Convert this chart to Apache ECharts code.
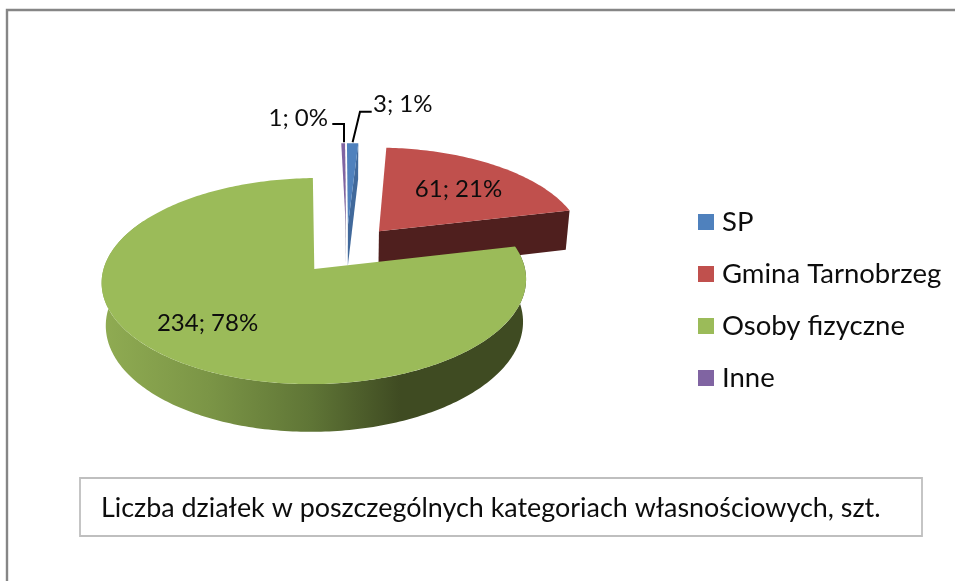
<!DOCTYPE html>
<html>
<head>
<meta charset="utf-8">
<style>html,body{margin:0;padding:0;background:#fff}#c{width:955px;height:581px}</style>
<script src="https://cdn.jsdelivr.net/npm/echarts@6/dist/echarts.min.js"></script>
</head>
<body>
<div id="c"></div>
<script>
const categories = ['SP', 'Gmina Tarnobrzeg', 'Osoby fizyczne', 'Inne'];
const values = [3, 61, 234, 1];
const percents = [1, 21, 78, 0];
const colors = ['#4F81BD', '#C0504D', '#9BBB59', '#8064A2'];
const faceColors = ['#41699B', '#4F1F1E', '#56682F', '#4B3A60'];
const titleText = 'Liczba działek w poszczególnych kategoriach własnościowych, szt.';

const FONT = 'Lato';
const view = {x0: 346.5, y0: 249.4, a: 206, b: 97.1, k: 0.114, depth: 41.2, shrink: 0.983, explode: 0.25, rotate: -0.25};
const total = values.reduce((s, v) => s + v, 0);

function rad(d) { return d * Math.PI / 180; }
function sliceAngles(i) {
  let s = view.rotate;
  for (let j = 0; j < i; j++) s += values[j] / total * 360;
  return [s, s + values[i] / total * 360];
}
function project(x, z, low) {
  const w = 1 + view.k * z;
  let X = view.a * x / w;
  let Y = -view.b * z / w;
  if (low) { X *= view.shrink; Y += view.depth / w; }
  return [view.x0 + X, view.y0 + Y];
}
function at(bis, deg, r, low) {
  const ex = Math.sin(rad(bis)) * view.explode, ez = Math.cos(rad(bis)) * view.explode;
  return project(ex + r * Math.sin(rad(deg)), ez + r * Math.cos(rad(deg)), low);
}
function arc(bis, a0, a1, low) {
  const n = Math.max(4, Math.ceil(Math.abs(a1 - a0)));
  const p = [];
  for (let t = 0; t <= n; t++) p.push(at(bis, a0 + (a1 - a0) * t / n, 1, low));
  return p;
}

const sideGradient = {
  type: 'linear', x: 105, y: 0, x2: 400, y2: 0, global: true,
  colorStops: [
    {offset: 0, color: '#8FAB52'},
    {offset: 0.35, color: '#7B9546'},
    {offset: 0.7, color: '#5F7536'},
    {offset: 1, color: '#3F4B22'}
  ]
};

const labelSpec = [
  {outside: true, text: [373, 104], kink: [[360, 111.7], [371.7, 111.7]], align: 'left'},
  {r: 0.64, deg: 41.5},
  {r: 0.686, deg: 223},
  {outside: true, text: [328, 118], kink: [[344, 124], [332.3, 124]], align: 'right'}
];

function renderSlice(i, api) {
  const [a0, a1] = sliceAngles(i);
  const bis = (a0 + a1) / 2;
  const apex = at(bis, 0, 0, false), apexLow = at(bis, 0, 0, true);
  const kids = [];
  const top = arc(bis, a0, a1, false);
  const low = arc(bis, a0, a1, true);
  if (i === 2) {
    // near wall of the big slice: the part that faces the viewer
    const wallEnd = Math.min(a1, 300);
    const wt = arc(bis, a0, wallEnd, false), wl = arc(bis, a0, wallEnd, true);
    kids.push({type: 'polygon', shape: {points: wt.concat(wl.reverse())},
      style: {fill: sideGradient}, silent: true});
  } else {
    // cut face on the clockwise end of the slice
    kids.push({type: 'polygon', shape: {points: [apex, top[top.length - 1], low[low.length - 1], apexLow]},
      style: {fill: faceColors[i]}, silent: true});
  }
  kids.push({type: 'polygon', shape: {points: [apex].concat(top)},
    style: {fill: colors[i]}, silent: true});
  const spec = labelSpec[i];
  const txt = values[i] + '; ' + percents[i] + '%';
  const textStyle = {font: '24px ' + FONT, fill: '#0d0d0d'};
  if (spec.outside) {
    const start = at(bis, bis, 1, false);
    kids.push({type: 'polyline', shape: {points: [[spec.kink[0][0] === 344 ? 344 : start[0], start[1] - 1]].concat(spec.kink)},
      style: {stroke: '#000', lineWidth: 2, fill: null}, silent: true});
    kids.push({type: 'text', x: spec.text[0], y: spec.text[1],
      style: Object.assign({text: txt, align: spec.align, verticalAlign: 'middle'}, textStyle), z2: 50});
  } else {
    const c = at(bis, spec.deg, spec.r, false);
    kids.push({type: 'text', x: c[0], y: c[1],
      style: Object.assign({text: txt, align: 'center', verticalAlign: 'middle'}, textStyle), z2: 50});
  }
  return {type: 'group', children: kids};
}

const paintOrder = [0, 3, 1, 2];
const series = categories.map((name, i) => ({
  type: 'custom',
  name: name,
  coordinateSystem: 'none',
  silent: true,
  animation: false,
  z: 2 + paintOrder.indexOf(i),
  itemStyle: {color: colors[i]},
  data: [values[i]],
  renderItem: (params, api) => renderSlice(i, api)
}));

const chart = echarts.init(document.getElementById('c'), null, {renderer: 'canvas'});
chart.setOption({
  animation: false,
  backgroundColor: '#fff',
  legend: {
    data: categories,
    orient: 'vertical',
    left: 698,
    top: 208,
    padding: 0,
    itemWidth: 16,
    itemHeight: 16,
    itemGap: 24,
    icon: 'rect',
    selectedMode: false,
    textStyle: {fontFamily: FONT, fontSize: 27.5, color: '#0d0d0d', padding: [0, 0, 0, 3]}
  },
  title: {
    text: titleText,
    left: 101,
    top: 492,
    padding: 0,
    textStyle: {fontFamily: FONT, fontSize: 26.9, fontWeight: 'normal', color: '#0d0d0d', lineHeight: 32}
  },
  graphic: [
    {type: 'rect', silent: true, shape: {x: 7, y: 10, width: 1000, height: 640},
      style: {fill: null, stroke: '#868686', lineWidth: 2.4}},
    {type: 'rect', silent: true, shape: {x: 80, y: 478, width: 842, height: 58},
      style: {fill: null, stroke: '#BFBFBF', lineWidth: 1.8}}
  ],
  series: series
});
</script>
</body>
</html>
